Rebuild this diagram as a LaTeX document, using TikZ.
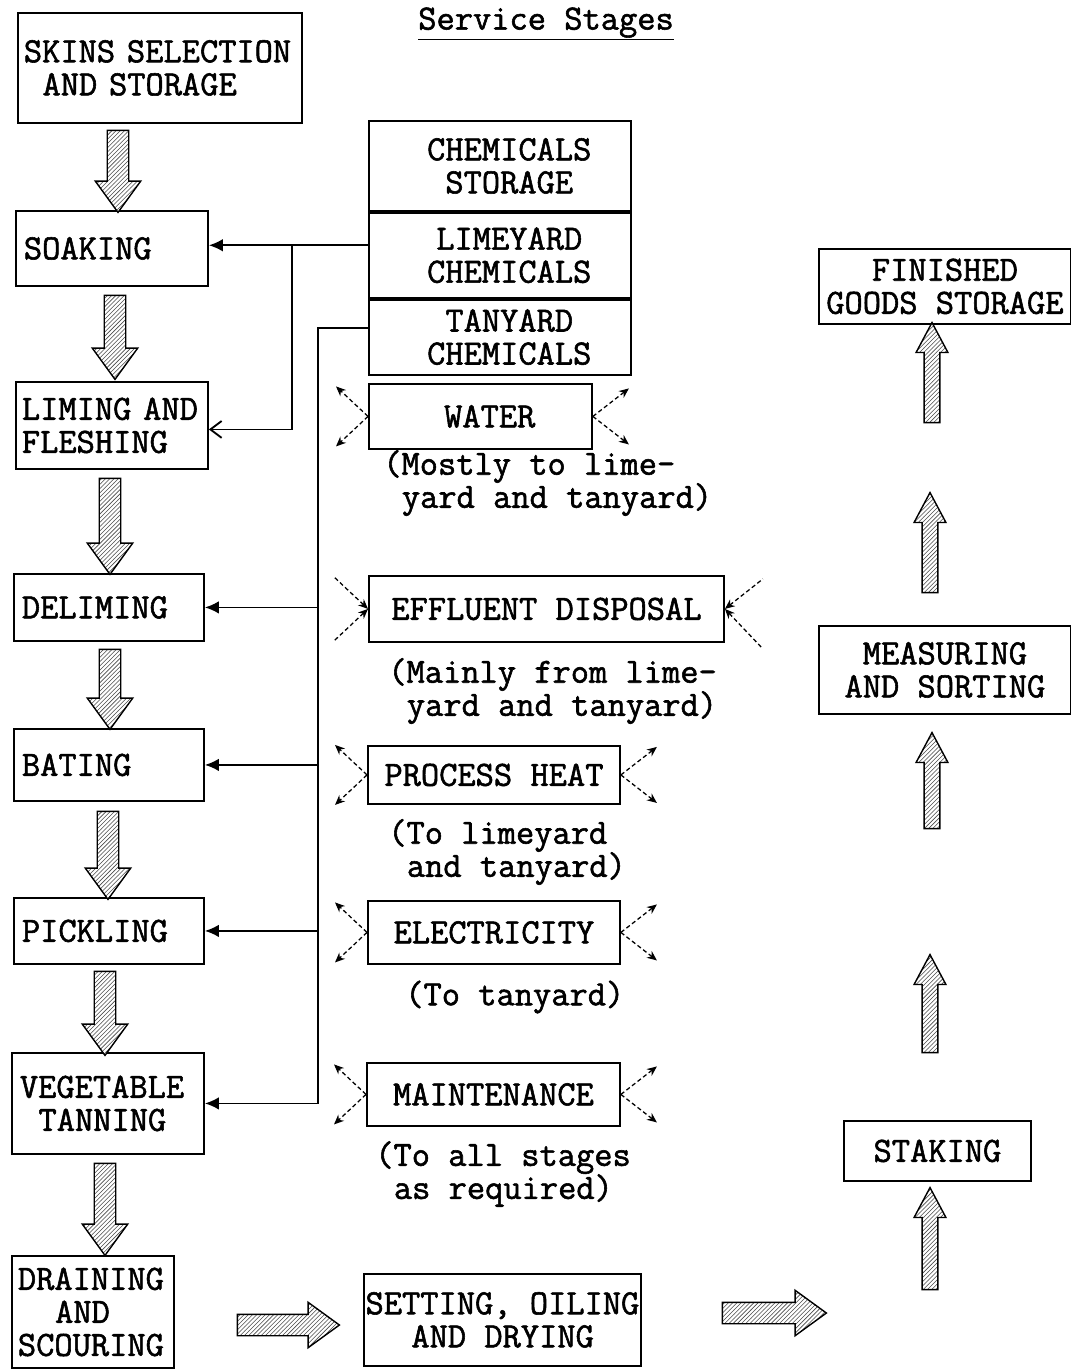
\documentclass[tikz,border=0pt]{standalone}
\usepackage{fontspec}
\setmainfont{Latin Modern Mono}[BoldFont={Latin Modern Mono},BoldFeatures={FakeBold=1.6}]
\usetikzlibrary{arrows.meta,positioning,shapes.arrows,patterns}
\newcommand{\indentone}{\hspace*{0.525em}}

\tikzset{
  typed/.style={font=\fontsize{25.2}{23.5}\selectfont\bfseries},
  stagebox/.style={typed,draw,line width=1.3pt,anchor=north west,
    inner xsep=0.2cm,inner ysep=0pt,align=left},
  servicebox/.style={typed,draw,line width=1.3pt,anchor=north west,
    inner sep=0pt,align=center},
  servicenote/.style={typed,anchor=west,inner sep=0pt,align=left},
  feed/.style={line width=1.3pt,-{Latex[length=10pt,width=9pt]}},
  supply/.style={densely dashed,line width=0.9pt,-{Stealth[length=7pt,width=6pt]}},
  drain/.style={densely dashed,line width=0.9pt,{Stealth[length=7pt,width=6pt]}-},
  flowarrow/.style={single arrow,draw,line width=1pt,inner xsep=0pt,inner ysep=0.25cm,
    single arrow head extend=0.3cm,single arrow tip angle=72,
    preaction={fill=white},pattern=north east lines,pattern color=black!70},
  risearrow/.style={flowarrow,inner ysep=0.18cm,single arrow head extend=0.2cm,
    single arrow tip angle=56}
}

\begin{document}
\begin{tikzpicture}[x=0.025cm,y=-0.025cm]
  \useasboundingbox (0,0) rectangle (1071,1369);

  % main stages
  \node[stagebox,inner xsep=0.15cm,text width=6.8cm,minimum height=2.75cm] (skins) at (17,12)
    {SKINS SELECTION\\\indentone AND STORAGE};
  \node[stagebox,text width=4.4cm,minimum height=1.875cm] (soaking) at (15,210) {SOAKING};
  \node[stagebox,inner xsep=0.15cm,text width=4.5cm,minimum height=2.175cm] (liming) at (15,381)
    {LIMING AND\\FLESHING};
  \node[stagebox,text width=4.35cm,minimum height=1.675cm] (deliming) at (13,573) {DELIMING};
  \node[stagebox,text width=4.35cm,minimum height=1.8cm] (bating) at (13,728) {BATING};
  \node[stagebox,text width=4.35cm,minimum height=1.65cm] (pickling) at (13,897) {PICKLING};
  \node[stagebox,text width=4.4cm,minimum height=2.525cm] (vegtan) at (11,1052)
    {VEGETABLE\\\indentone TANNING};
  \node[stagebox,inner xsep=0.15cm,text width=3.75cm,minimum height=2.8cm] (draining) at (11,1255)
    {DRAINING\\\indentone\indentone AND\\SCOURING};
  \node[servicebox,minimum width=6.925cm,minimum height=2.3cm] (setting) at (363,1273)
    {SETTING, OILING\\\indentone AND DRYING\phantom{X}};
  \node[servicebox,minimum width=4.675cm,minimum height=1.5cm] (staking) at (843,1120) {STAKING};
  \node[servicebox,minimum width=6.3cm,minimum height=2.2cm] (measuring) at (818,625)
    {MEASURING\\AND SORTING};
  \node[servicebox,minimum width=6.3cm,minimum height=1.875cm] (finished) at (818,248)
    {FINISHED\\GOODS STORAGE};

  % service stages
  \node[typed,anchor=west,inner sep=0pt] (title) at (418,24) {\underline{Service Stages}};
  \node[servicebox,minimum width=6.55cm,minimum height=2.25cm] (chemstore) at (368,120)
    {\indentone CHEMICALS\\\indentone STORAGE};
  \node[servicebox,minimum width=6.55cm,minimum height=2.125cm] (limechem)
    at (chemstore.south west) {\indentone LIMEYARD\\\indentone CHEMICALS};
  \node[servicebox,minimum width=6.55cm,minimum height=1.875cm] (tanchem)
    at (limechem.south west) {\indentone TANYARD\\\indentone CHEMICALS};
  \node[servicebox,minimum width=5.575cm,minimum height=1.625cm] (water) at (368,383)
    {\indentone WATER};
  \node[servicebox,minimum width=8.875cm,minimum height=1.65cm] (effluent) at (368,575)
    {EFFLUENT DISPOSAL};
  \node[servicebox,minimum width=6.3cm,minimum height=1.45cm] (heat) at (367,745)
    {PROCESS HEAT};
  \node[servicebox,minimum width=6.3cm,minimum height=1.575cm] (elec) at (367,900)
    {ELECTRICITY};
  \node[servicebox,minimum width=6.325cm,minimum height=1.575cm] (maint) at (366,1062)
    {MAINTENANCE};

  \node[servicenote] (waternote) at (383,483) {(Mostly to lime-\\\indentone yard and tanyard)};
  \node[servicenote] (effluentnote) at (388,691) {(Mainly from lime-\\\indentone yard and tanyard)};
  \node[servicenote] (heatnote) at (388,852) {(To limeyard\\\indentone and tanyard)};
  \node[servicenote] (elecnote) at (405,997) {(To tanyard)};
  \node[servicenote] (maintnote) at (375,1174) {(To all stages\\\indentone as required)};

  % chemicals feed lines
  \coordinate (limebus) at (292,0);
  \coordinate (tanbus) at (318,0);
  \draw[feed] ([yshift=0.25cm]limechem.west) -- ([yshift=0.25cm]limechem.west -| soaking.east);
  \draw[line width=1.3pt,-{Straight Barb[length=8pt,width=12pt]}]
    ([yshift=0.25cm]limebus |- limechem.west) |- ([yshift=-0.1cm]liming.east);
  \draw[feed] ([yshift=0.22cm]tanchem.west) -| (tanbus |- vegtan.east) -- (vegtan.east);
  \foreach \n in {deliming,bating,pickling}
    \draw[feed] (tanbus |- \n.east) -- (\n.east);

  % dashed supply arrows
  \foreach \n in {water,heat,elec,maint}{
    \draw[supply] (\n.west) -- ++(-32,-30);
    \draw[supply] (\n.west) -- ++(-32,30);
    \draw[supply] (\n.east) -- ++(36,-28);
    \draw[supply] (\n.east) -- ++(36,28);
  }
  \draw[drain] (effluent.west) -- ++(-34,-32);
  \draw[drain] (effluent.west) -- ++(-34,32);
  \draw[drain] (effluent.east) -- ++(38,-30);
  \draw[drain] (effluent.east) -- ++(38,40);

  % process flow arrows
  \node[flowarrow,rotate=-90,minimum height=2.05cm] (a1) at (118,164) {};
  \node[flowarrow,rotate=-90,minimum height=2.1cm] (a2) at (115,330) {};
  \node[flowarrow,rotate=-90,minimum height=2.4cm] (a3) at (110,519) {};
  \node[flowarrow,rotate=-90,minimum height=2.0cm] (a4) at (110,682) {};
  \node[flowarrow,rotate=-90,minimum height=2.2cm] (a5) at (108,848) {};
  \node[flowarrow,rotate=-90,minimum height=2.1cm] (a6) at (105,1006) {};
  \node[flowarrow,rotate=-90,minimum height=2.3cm] (a7) at (105,1202) {};
  \node[flowarrow,minimum height=2.55cm] (a8) at (281,1325) {};
  \node[flowarrow,minimum height=2.6cm] (a9) at (767,1313) {};
  \node[risearrow,rotate=90,minimum height=2.55cm] (a10) at (930,1246) {};
  \node[risearrow,rotate=90,minimum height=2.45cm] (a11) at (930,1011) {};
  \node[risearrow,rotate=90,minimum height=2.4cm] (a12) at (932,788) {};
  \node[risearrow,rotate=90,minimum height=2.5cm] (a13) at (930,550) {};
  \node[risearrow,rotate=90,minimum height=2.5cm] (a14) at (932,380) {};
\end{tikzpicture}
\end{document}
